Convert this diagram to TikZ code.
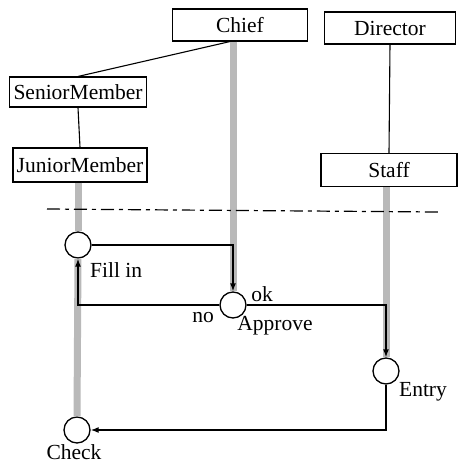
\documentclass[tikz,border=0pt]{standalone}
\usepackage{fontspec}
\setmainfont{Liberation Serif}
\usetikzlibrary{arrows.meta}
\begin{document}
\begin{tikzpicture}[x=1pt,y=-1pt,
  font=\fontsize{21.5}{24}\selectfont,
  cls/.style={draw,line width=1.1pt,minimum height=32pt,inner sep=0pt},
  act/.style={draw,circle,line width=1.3pt,minimum size=26pt,inner sep=0pt},
  life/.style={draw=gray!55,line width=7pt},
  conn/.style={line width=1.1pt},
  flow/.style={line width=1.3pt,-{Latex[length=8pt,width=6pt]}},
  lbl/.style={inner sep=0pt}]
\useasboundingbox (0,0) rectangle (459,464);
% class boxes
\node[cls,minimum width=135pt] (chief) at (240,25) {Chief};
\node[cls,minimum width=131pt] (director) at (390,28) {Director};
\node[cls,minimum width=137pt,minimum height=30pt] (senior) at (78,92) {SeniorMember};
\node[cls,minimum width=134pt,minimum height=34pt] (junior) at (80,165) {JuniorMember};
\node[cls,minimum width=136pt,minimum height=33pt] (staff) at (389,170) {Staff};
% activity circles
\node[act] (fill) at (78,245) {};
\node[act] (approve) at (233,305) {};
\node[act] (entry) at (386,371) {};
\node[act] (check) at (77,430) {};
% lifelines
\draw[life] (fill.north |- junior.south) -- (fill.north);
\draw[life] (fill.south) -- (check.north);
\draw[life] (approve.north |- chief.south) -- (approve.north);
\draw[life] (entry.north |- staff.south) -- (entry.north);
% hierarchy lines
\draw[conn] ([xshift=-10pt]chief.south) -- (senior.north);
\draw[conn] (senior.south) -- (junior.north);
\draw[conn] (director.south) -- (staff.north);
% dash-dot separator
\coordinate (dl) at (47,209);
\coordinate (dr) at (438,212);
\draw[line width=1.2pt,dash pattern=on 13pt off 5pt on 4pt off 5pt] (dl) -- (dr);
% flows
\draw[flow] (fill.east) -| (approve.north);
\draw[flow] (approve.west) -| (fill.south);
\draw[flow] (approve.east) -| (entry.north);
\draw[flow] (entry.south) |- (check.east);
% labels
\node[lbl,anchor=west] (lfill) at (90,270) {Fill in};
\node[lbl] (lno) at (203,318) {no};
\node[lbl] (lok) at (262,294) {ok};
\node[lbl] (lapprove) at (275,326) {Approve};
\node[lbl] (lentry) at (423,392) {Entry};
\node[lbl] (lcheck) at (74,452) {Check};
\end{tikzpicture}
\end{document}
